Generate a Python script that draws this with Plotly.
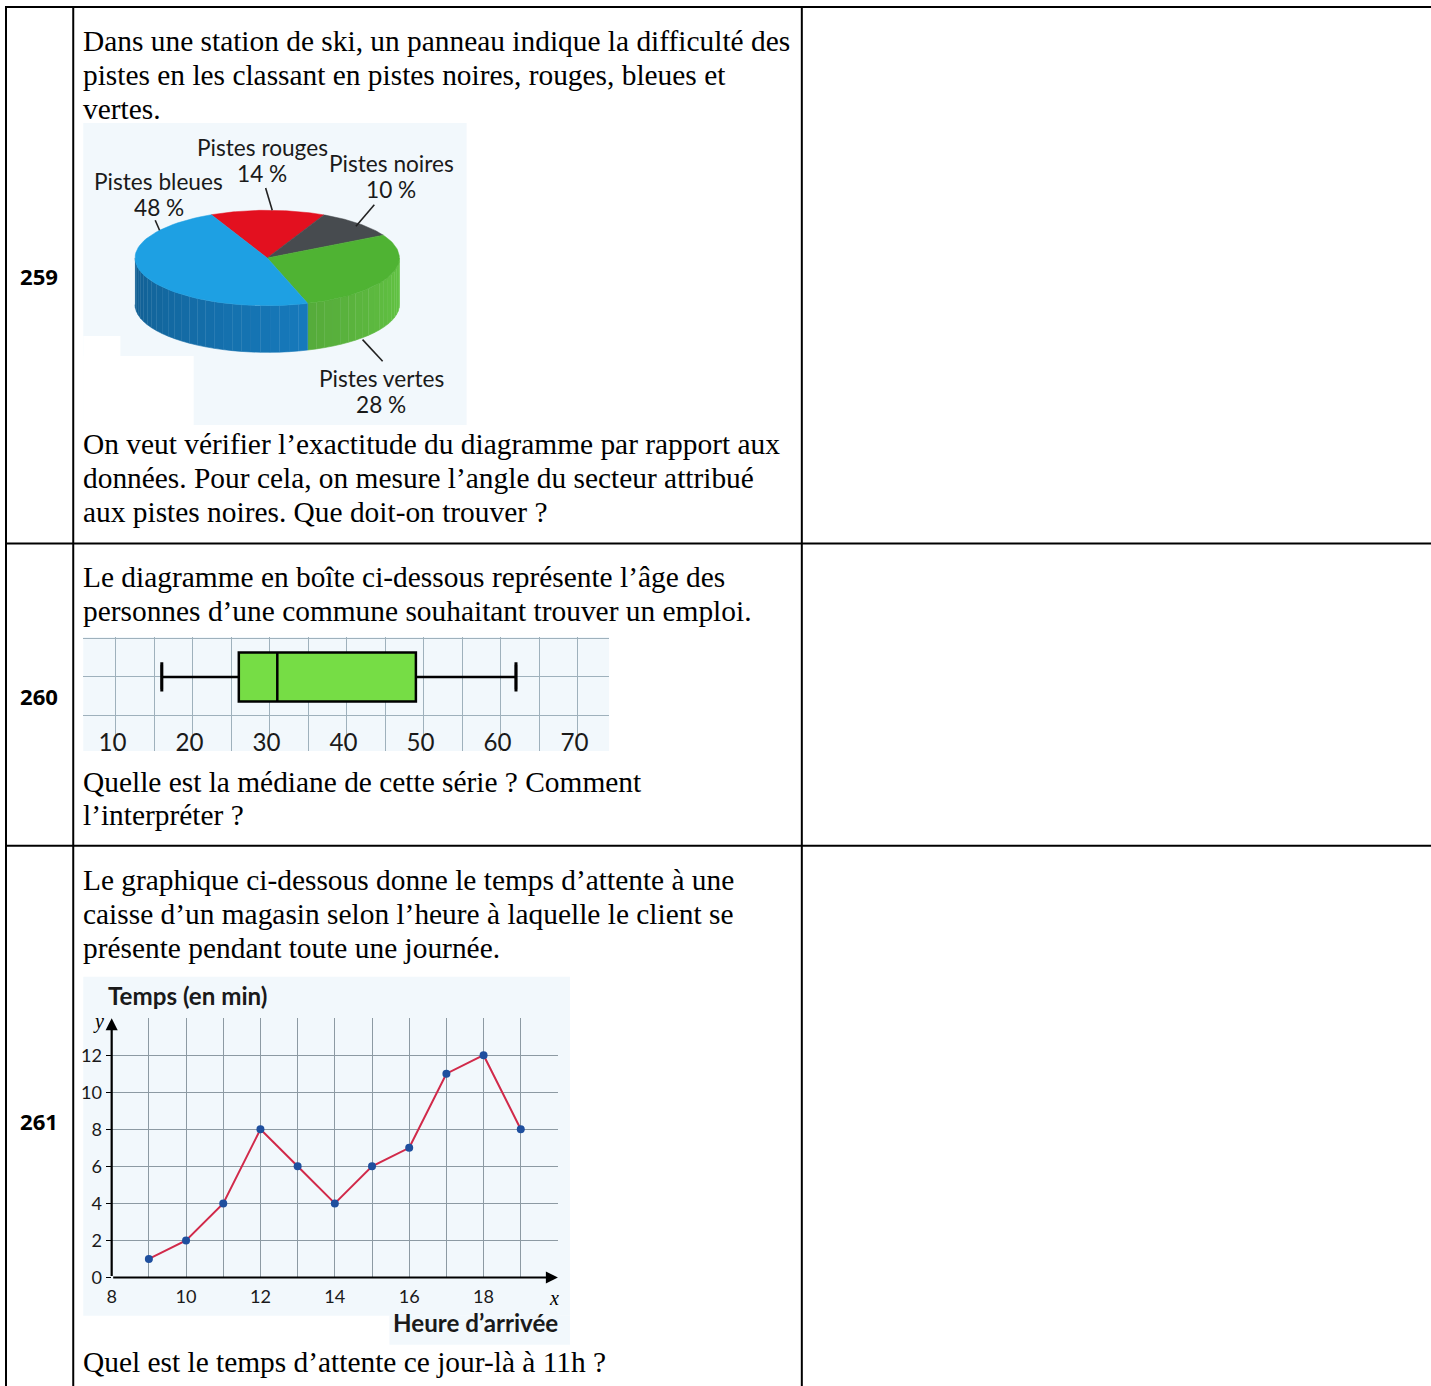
import numpy as np
import plotly.graph_objects as go

# the photographed page comes out scaled by ~0.993 and shifted ~5px right,
# so positions read off the reference are mapped back through that
S, OFF_X = 0.993, 5.0
W, H = 1441, 1396

# --- data -------------------------------------------------------------
# 259 : pie chart (ski slopes)
pie_labels = ["Pistes rouges", "Pistes noires", "Pistes vertes", "Pistes bleues"]
pie_pcts = [14, 10, 28, 48]
pie_top_colors = ["#e3101f", "#474b4f", "#4fb333", "#1ea0e3"]
pie_side_colors = ["#b00c18", "#35383b", "#62c343", "#1a8bd6"]

# 260 : box plot (ages)
box_min, box_q1, box_median, box_q3, box_max = 16, 26, 31, 49, 62
box_ticks = [10, 20, 30, 40, 50, 60, 70]

# 261 : waiting time vs arrival hour
hours = [9, 10, 11, 12, 13, 14, 15, 16, 17, 18, 19]
wait_min = [1, 2, 4, 8, 6, 4, 6, 7, 11, 12, 8]
x_ticks = [8, 10, 12, 14, 16, 18]
y_ticks = [0, 2, 4, 6, 8, 10, 12]

row_numbers = ["259", "260", "261"]
text_259a = ["Dans une station de ski, un panneau indique la difficulté des",
             "pistes en les classant en pistes noires, rouges, bleues et",
             "vertes."]
text_259b = ["On veut vérifier l’exactitude du diagramme par rapport aux",
             "données. Pour cela, on mesure l’angle du secteur attribué",
             "aux pistes noires. Que doit-on trouver ?"]
text_260a = ["Le diagramme en boîte ci-dessous représente l’âge des",
             "personnes d’une commune souhaitant trouver un emploi."]
text_260b = ["Quelle est la médiane de cette série ? Comment",
             "l’interpréter ?"]
text_261a = ["Le graphique ci-dessous donne le temps d’attente à une",
             "caisse d’un magasin selon l’heure à laquelle le client se",
             "présente pendant toute une journée."]
text_261b = ["Quel est le temps d’attente ce jour-là à 11h ?"]


def px_x(x):
    return ((x - OFF_X) / S) / W


def px_y(y):
    return 1 - (y / S) / H


def fs(size):
    return size / S


def shade(hex_color, f):
    r, g, b = (int(hex_color[i:i + 2], 16) for i in (1, 3, 5))
    return "rgb(%d,%d,%d)" % (min(255, r * f), min(255, g * f), min(255, b * f))


def note(text, x, y, size, family="Lato", weight="normal", color="#1a1a1a",
         xanchor="center", ref="paper"):
    if ref == "paper":
        x, y = px_x(x), px_y(y)
    return dict(text=text, xref=ref if ref == "paper" else "x",
                yref=ref if ref == "paper" else "y", x=x, y=y,
                showarrow=False, xanchor=xanchor, yanchor="middle",
                font=dict(family=family, size=fs(size), color=color, weight=weight))


fig = go.Figure()
shapes = []
annotations = []

# --- table grid ----------------------------------------------------------
for x in (6, 73, 799):
    shapes.append(dict(type="line", xref="paper", yref="paper", x0=px_x(x), x1=px_x(x),
                       y0=px_y(6), y1=0, line=dict(color="black", width=2)))
for y in (7, 543.5, 846):
    shapes.append(dict(type="line", xref="paper", yref="paper", x0=px_x(5), x1=1,
                       y0=px_y(y), y1=px_y(y), line=dict(color="black", width=2)))

for num, yc in zip(row_numbers, (276, 696, 1121)):
    annotations.append(note(num, 39, yc, 22, family="Open Sans", weight="bold", color="black"))


def add_lines(lines, y_first, step=34):
    for i, line in enumerate(lines):
        annotations.append(note(line, 81, y_first + i * step, 29.2,
                                family="Liberation Serif", color="black", xanchor="left"))


add_lines(text_259a, 41)
add_lines(text_259b, 444)
add_lines(text_260a, 577)
add_lines(text_260b, 782, 33)
add_lines(text_261a, 880)
add_lines(text_261b, 1362)

# --- chart backgrounds ---------------------------------------------------
bg = "#f2f8fc"
for x0, y0, x1, y1, c in [(83, 123, 465, 425, bg), (83, 336, 120, 425, "white"),
                          (83, 356, 193, 425, "white"),
                          (83, 637, 607, 751, bg),
                          (83, 977, 568, 1316, bg), (388, 1316, 568, 1345, bg)]:
    shapes.append(dict(type="rect", xref="paper", yref="paper", layer="below",
                       x0=px_x(x0), x1=px_x(x1), y0=px_y(y1), y1=px_y(y0),
                       fillcolor=c, line=dict(width=0)))

# --- 259 : 3D-looking pie (ellipse sectors computed from the percentages) -
cx, cy, ea, eb, depth = 183.3, 135, 131.7, 47.7, 46.7
start = 115.0
bounds = [start]
for p in pie_pcts:
    bounds.append(bounds[-1] - 3.6 * p)


def ell(t_deg, dy=0):
    t = np.radians(t_deg)
    return cx + ea * np.cos(t), cy - eb * np.sin(t) + dy


# visible front side (parametric angle between -180 and 0)
for i in range(len(pie_pcts)):
    hi, lo = bounds[i], bounds[i + 1]
    for k in (-360, 0, 360):
        a0, a1 = max(lo + k, -180), min(hi + k, 0)
        if a1 <= a0:
            continue
        n = max(2, int((a1 - a0) / 4))
        edges = np.linspace(a0, a1, n + 1)
        for j in range(n):
            tt = np.linspace(edges[j], edges[j + 1], 4)
            xs_t, ys_t = ell(tt)
            xs_b, ys_b = ell(tt[::-1], depth)
            f = 0.68 + 0.34 * ((edges[j] + 180) / 180)
            col = shade(pie_side_colors[i], f)
            fig.add_trace(go.Scatter(x=np.r_[xs_t, xs_b], y=np.r_[ys_t, ys_b],
                                     fill="toself", fillcolor=col, mode="lines",
                                     line=dict(color=col, width=0.6),
                                     hoverinfo="skip", showlegend=False,
                                     xaxis="x", yaxis="y"))

# top sectors
for i, (lab, p) in enumerate(zip(pie_labels, pie_pcts)):
    tt = np.linspace(bounds[i], bounds[i + 1], 60)
    xs, ys = ell(tt)
    fig.add_trace(go.Scatter(x=np.r_[cx, xs, cx], y=np.r_[cy, ys, cy],
                             fill="toself", fillcolor=pie_top_colors[i], mode="lines",
                             line=dict(color=pie_top_colors[i], width=0.5),
                             name=lab, hovertext="%s %d %%" % (lab, p), hoverinfo="text",
                             showlegend=False, xaxis="x", yaxis="y"))

label_pos = [(178.3, 37.5), (306.7, 54), (296.7, 269), (75, 72)]
leaders = [((181.7, 65), (188.3, 87.3)), ((290, 81.7), (271.7, 103.3)),
           ((278.3, 216.7), (298.3, 238.3)), ((71.7, 97.3), (76, 107.3))]
for lab, p, (lx, ly), ((x0, y0), (x1, y1)) in zip(pie_labels, pie_pcts, label_pos, leaders):
    annotations.append(note(lab, lx, ly - 13, 22.5, ref="x"))
    annotations.append(note("%d %%" % p, lx, ly + 13, 22.5, ref="x"))
    shapes.append(dict(type="line", xref="x", yref="y", x0=x0, y0=y0, x1=x1, y1=y1,
                       line=dict(color="#222", width=1.6)))

# --- 260 : box plot --------------------------------------------------------
fig.add_trace(go.Box(q1=[box_q1], median=[box_median], q3=[box_q3],
                     lowerfence=[box_min], upperfence=[box_max], y=[0],
                     orientation="h", width=1, fillcolor="#76dd45",
                     line=dict(color="black", width=2.5), showlegend=False,
                     xaxis="x2", yaxis="y2"))
fig.add_trace(go.Scatter(x=[box_min, box_max], y=[0, 0], mode="markers",
                         marker=dict(symbol="line-ns", size=21,
                                     line=dict(width=3, color="black")),
                         hoverinfo="skip", showlegend=False, xaxis="x2", yaxis="y2"))

# --- 261 : line chart --------------------------------------------------------
fig.add_trace(go.Scatter(x=hours, y=wait_min, mode="lines+markers",
                         line=dict(color="#d12a4a", width=2),
                         marker=dict(color="#1f4f9e", size=8),
                         showlegend=False, xaxis="x3", yaxis="y3"))

for (x, y, ax, ay) in [(20, 0, 8, 0), (8, 14, 8, 0)]:
    annotations.append(dict(x=x, y=y, ax=ax, ay=ay, xref="x3", yref="y3",
                            axref="x3", ayref="y3", showarrow=True, arrowhead=2,
                            arrowsize=1.1, arrowwidth=2.2, arrowcolor="black", text=""))

annotations += [
    note("Temps (en min)", 106, 996, 24, weight="bold", xanchor="left"),
    note("Heure d’arrivée", 558, 1323, 24, weight="bold", xanchor="right"),
    note("<i>y</i>", 98, 1022, 20, family="Liberation Serif", color="black"),
    note("<i>x</i>", 552, 1298, 20, family="Liberation Serif", color="black"),
]

chart_font = dict(family="Lato", color="#1a1a1a")
fig.update_layout(
    width=W, height=H, margin=dict(l=0, r=0, t=0, b=0),
    paper_bgcolor="white", plot_bgcolor="rgba(0,0,0,0)",
    showlegend=False, shapes=shapes, annotations=annotations,
    # pie panel, pixel-like coordinates
    xaxis=dict(domain=[px_x(83), px_x(465)], range=[0, 382], visible=False, fixedrange=True),
    yaxis=dict(domain=[px_y(425), px_y(123)], range=[302, 0], visible=False, fixedrange=True),
    # box plot panel
    xaxis2=dict(domain=[px_x(83), px_x(607)], range=[5.8, 74.1], anchor="y2",
                tickvals=box_ticks, ticklabelposition="inside", ticks="",
                ticklabelstandoff=-8, ticklabelshift=-3,
                showgrid=True, gridcolor="#9fb1bc", gridwidth=1,
                minor=dict(dtick=5, tick0=0, showgrid=True, gridcolor="#9fb1bc", gridwidth=1),
                zeroline=False, showline=False,
                tickfont=dict(size=fs(24), **chart_font)),
    yaxis2=dict(domain=[px_y(751), px_y(637)], range=[-1.51, 0.816], anchor="x2",
                tickvals=[-0.785, 0, 0.785], showticklabels=False, ticks="",
                showgrid=True, gridcolor="#9fb1bc", zeroline=False, showline=False),
    # line chart panel
    xaxis3=dict(domain=[px_x(111.3), px_x(556)], range=[8, 20], anchor="y3",
                tickvals=x_ticks, ticks="", ticklabelstandoff=6,
                showgrid=True, gridcolor="#8d9aa3",
                minor=dict(dtick=1, tick0=0, showgrid=True, gridcolor="#8d9aa3"),
                zeroline=False, showline=False,
                tickfont=dict(size=fs(18), **chart_font)),
    yaxis3=dict(domain=[px_y(1277.7), px_y(1018.3)], range=[0, 14], anchor="x3",
                tickvals=y_ticks, ticks="outside", ticklen=5, tickcolor="black",
                showgrid=True, gridcolor="#8d9aa3",
                minor=dict(dtick=2, tick0=0, showgrid=True, gridcolor="#8d9aa3"),
                zeroline=False, showline=False,
                tickfont=dict(size=fs(18), **chart_font)),
)

# page body: no default margin and no scrolling
fig.write_html(
    "out.html",
    config={"displayModeBar": False},
    post_script=("document.body.style.margin='0';"
                 "document.body.style.overflow='hidden';"
                 "document.documentElement.style.overflow='hidden';"),
)
